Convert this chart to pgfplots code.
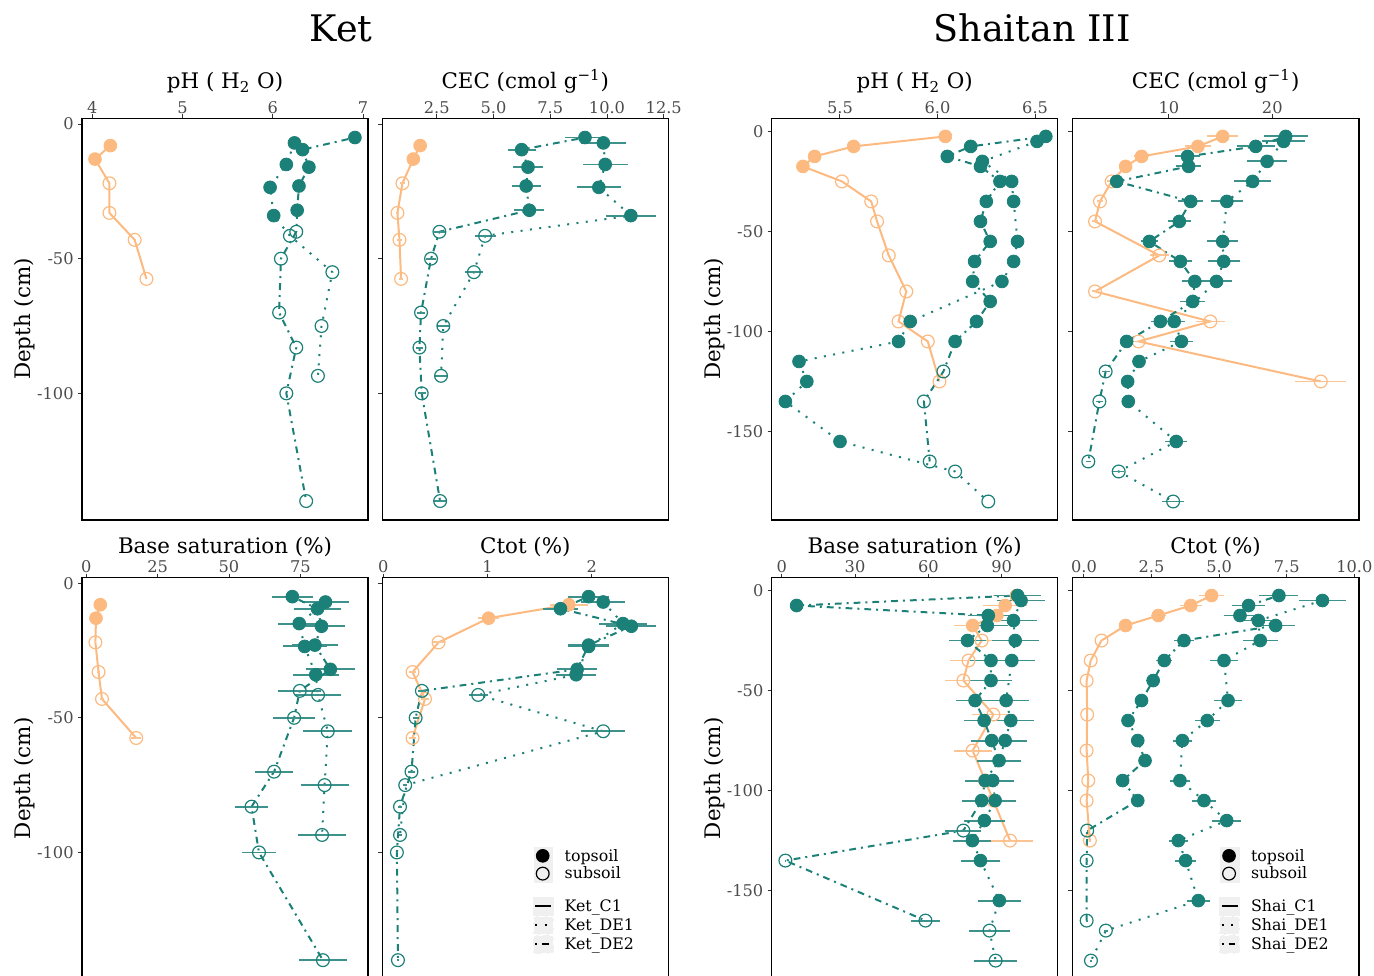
\documentclass[border=0pt]{standalone}
\usepackage{fontspec}
\setmainfont{DejaVu Serif}
\usepackage{pgfplots}
\usepackage{pgfplotstable}
\pgfplotsset{compat=1.18}
\definecolor{orng}{HTML}{FCBA80}
\definecolor{tl}{HTML}{1B8077}
\tikzset{dotl/.style={dash pattern=on 1pt off 3.7pt},
         ddl/.style={dash pattern=on 1pt off 2.5pt on 3.4pt off 2.5pt}}

% columns: depth, pH, CEC, err, base saturation, err, Ctot, err
\pgfplotstableread{
d ph cec ecec bs ebs c ec
-8 4.20 1.77 0.18 4.9 0.5 1.78 0.18
-13 4.03 1.47 0.15 3.4 0.3 1.01 0.10
-22 4.19 0.99 0.10 3.2 0.3 0.53 0.05
-33 4.19 0.77 0.08 4.3 0.4 0.28 0.03
-43 4.47 0.86 0.09 5.5 0.6 0.40 0.04
-57.5 4.60 0.93 0.09 17.5 1.8 0.28 0.03
}\KetA
\pgfplotstableread{
d ph cec ecec bs ebs c ec
-7 6.24 9.84 0.98 83.8 8.4 2.11 0.21
-15 6.15 9.92 0.99 74.6 7.5 2.30 0.23
-23.5 5.97 9.64 0.96 76.5 7.7 1.97 0.20
-34 6.01 11.05 1.10 80.4 8.0 1.85 0.19
-41.5 6.19 4.63 0.46 81.2 8.1 0.91 0.09
-55 6.66 4.14 0.41 84.6 8.5 2.11 0.21
-75 6.54 2.79 0.28 83.5 8.4 0.21 0.02
-93.5 6.50 2.69 0.27 82.6 8.3 0.16 0.02
}\KetB
\pgfplotstableread{
d ph cec ecec bs ebs c ec
-5 6.91 9.03 0.90 72.2 7.2 1.97 0.20
-9.5 6.33 6.24 0.62 81.0 8.1 1.70 0.17
-16 6.40 6.52 0.65 82.4 8.2 2.38 0.24
-23 6.29 6.44 0.64 80.1 8.0 1.97 0.20
-32 6.27 6.58 0.66 85.5 8.6 1.86 0.19
-40 6.26 2.62 0.26 74.8 7.5 0.37 0.04
-50 6.09 2.25 0.23 72.8 7.3 0.31 0.03
-70 6.07 1.81 0.18 65.8 6.6 0.27 0.03
-83 6.26 1.74 0.17 57.9 5.8 0.16 0.02
-100 6.15 1.84 0.18 60.5 6.1 0.13 0.01
-140 6.37 2.65 0.27 82.9 8.3 0.14 0.01
}\KetC
\pgfplotstableread{
d ph cec ecec bs ebs c ec
-2.5 6.04 15.2 1.52 96.0 9.6 4.72 0.47
-7.5 5.57 12.8 1.28 91.4 9.1 3.95 0.40
-12.5 5.37 7.35 0.74 88.0 8.8 2.75 0.28
-17.5 5.31 5.80 0.58 78.1 7.8 1.54 0.15
-25 5.51 4.45 0.45 81.8 8.2 0.65 0.07
-35 5.66 3.32 0.33 76.4 7.6 0.25 0.03
-45 5.69 2.84 0.28 74.3 7.4 0.10 0.01
-62 5.75 9.06 0.91 86.6 8.7 0.12 0.01
-80 5.84 2.84 0.28 78.1 7.8 0.10 0.01
-95 5.80 14.0 1.40 83.2 8.3 0.16 0.02
-105 5.95 7.06 0.71 86.6 8.7 0.10 0.01
-125 6.01 24.7 2.47 93.4 9.3 0.22 0.02
}\ShaiA
\pgfplotstableread{
d ph cec ecec bs ebs c ec
-5 6.51 21.1 2.11 97.9 9.8 8.82 0.88
-15 6.23 19.5 1.95 94.8 9.5 6.45 0.65
-25 6.38 18.1 1.81 95.5 9.6 6.52 0.65
-35 6.39 15.6 1.56 94.1 9.4 5.18 0.52
-55 6.41 15.2 1.52 91.8 9.2 5.33 0.53
-65 6.39 15.3 1.53 93.7 9.4 4.56 0.46
-75 6.33 14.6 1.46 91.4 9.1 3.64 0.36
-95 5.86 10.5 1.05 86.3 8.6 3.55 0.36
-105 5.80 11.2 1.12 87.3 8.7 4.44 0.44
-115 5.29 7.10 0.71 82.9 8.3 5.28 0.53
-125 5.33 6.00 0.60 78.0 7.8 3.49 0.35
-135 5.22 6.06 0.61 81.3 8.1 3.76 0.38
-155 5.50 10.7 1.07 89.0 8.9 4.23 0.42
-170 6.09 5.13 0.51 85.0 8.5 0.81 0.08
-185 6.26 10.4 1.04 87.5 8.8 0.26 0.03
}\ShaiB
\pgfplotstableread{
d ph cec ecec bs ebs c ec
-2.5 6.555 21.3 2.13 96.5 9.7 7.21 0.72
-7.5 6.17 18.4 1.84 6.1 0.6 6.09 0.61
-12.5 6.05 11.8 1.18 84.5 8.5 5.77 0.58
-17.5 6.22 11.9 1.19 84.1 8.4 7.09 0.71
-25 6.32 4.94 0.49 76.0 7.6 3.70 0.37
-35 6.25 12.1 1.21 85.6 8.6 2.97 0.30
-45 6.22 11.0 1.10 85.6 8.6 2.56 0.26
-55 6.27 8.10 0.81 79.1 7.9 2.13 0.21
-65 6.19 11.1 1.11 82.8 8.3 1.63 0.16
-75 6.18 12.5 1.25 85.9 8.6 1.99 0.20
-85 6.27 12.3 1.23 88.9 8.9 2.26 0.23
-95 6.20 9.16 0.92 83.2 8.3 1.43 0.14
-105 6.09 5.90 0.59 81.8 8.2 1.99 0.20
-120 6.03 3.87 0.39 74.3 7.4 0.12 0.01
-135 5.93 3.26 0.33 1.5 0.2 0.10 0.01
-165 5.96 2.19 0.22 58.8 5.9 0.10 0.01
}\ShaiC

% profile without error bars: table, column, colour, line style, topsoil domain, subsoil domain
\newcommand\profN[6]{%
 \addplot[forget plot, #3, #4, line width=1pt, no marks] table[x=#2,y=d]{#1};
 \addplot[forget plot, #3, only marks, mark=*, mark size=3.2pt, restrict y to domain=#5] table[x=#2,y=d]{#1};
 \addplot[forget plot, #3, only marks, mark=o, mark size=3.2pt, mark options={line width=0.6pt}, restrict y to domain=#6] table[x=#2,y=d]{#1};
}
% profile with horizontal error bars
\newcommand\profE[7]{%
 \addplot[forget plot, #4, #5, line width=1pt, no marks] table[x=#2,y=d]{#1};
 \addplot[forget plot, #4, only marks, mark=*, mark size=3.2pt, restrict y to domain=#6,
   error bars/.cd, x dir=both, x explicit, error mark=none, error bar style={color=#4!85!white, line width=0.95pt, solid}]
   table[x=#2,y=d,x error=#3]{#1};
 \addplot[forget plot, #4, only marks, mark=o, mark size=3.2pt, mark options={line width=0.6pt}, restrict y to domain=#7,
   error bars/.cd, x dir=both, x explicit, error mark=none, error bar style={color=#4!85!white, line width=0.95pt, solid}]
   table[x=#2,y=d,x error=#3]{#1};
}

\pgfplotsset{
  panel/.style={
    scale only axis, width=143pt, height=200.75pt,
    axis line style={black, line width=0.6pt},
    tick align=outside, major tick length=2pt,
    tick style={black!80, line width=0.5pt},
    xtick pos=right, ytick pos=left, xticklabel pos=right,
    ticklabel style={font=\fontsize{8.1}{9.5}\selectfont, text=black!70},
    xticklabel style={anchor=base, inner sep=0pt, yshift=0.4pt},
    yticklabel style={anchor=east, inner sep=0pt, xshift=-2pt},
    xlabel style={at={(axis description cs:0.5,1)}, anchor=base, inner sep=0pt, font=\fontsize{10.7}{12}\selectfont},
    ylabel style={at={([xshift=-25.65pt]axis description cs:0,0.5)}, anchor=base, inner sep=0pt, font=\fontsize{10.7}{12}\selectfont},
  },
  ketY/.style={ymin=-147, ymax=2.1, ytick={0,-50,-100}},
  shaiY/.style={ymin=-194.2, ymax=6.5, ytick={0,-50,-100,-150}},
  lgmk/.style={legend image code/.code={\fill[black!6] (0pt,-1.6pt) rectangle (9.35pt,6.9pt); \draw[##1] plot coordinates {(4.35pt,2.65pt)};}},
  lgln/.style={legend image code/.code={\fill[black!6] (0pt,-1.6pt) rectangle (9.35pt,6.9pt); \draw[##1] (0.65pt,2.8pt) -- (8.7pt,2.8pt);}},
  lgd/.style={legend style={draw=none, fill=none, inner sep=0pt, outer sep=0pt, anchor=north west,
      font=\fontsize{7.9}{9}\selectfont, row sep=0pt, column sep=5.5pt,
      cells={anchor=base west}, nodes={inner sep=0pt, text height=6.9pt, text depth=1.6pt}}},
}

\begin{document}
\begin{tikzpicture}
\path[use as bounding box] (0,0) rectangle (687pt,-487.5pt);
\clip (0,0) rectangle (687pt,-487.5pt);
\node[anchor=base, inner sep=0pt, font=\fontsize{18.3}{20}\selectfont] at (170.5pt,-20.85pt) {Ket};
\node[anchor=base, inner sep=0pt, font=\fontsize{18.3}{20}\selectfont] at (516pt,-20.85pt) {Shaitan III};

% ---------- Ket pH
\begin{axis}[panel, ketY, at={(41pt,-59.2pt)}, anchor=north west,
  xmin=3.886, xmax=7.055, xtick={4,5,6,7}, xticklabels={4,5,6,7},
  yticklabels={0,-50,-100}, xlabel={pH ( H\textsubscript{2} O)}, ylabel={Depth (cm)},
  xlabel style={yshift=14.75pt}]
\profN{\KetA}{ph}{orng}{solid}{-15:10}{-300:-16}
\profN{\KetB}{ph}{tl}{dotl}{-37:10}{-300:-38}
\profN{\KetC}{ph}{tl}{ddl}{-36:10}{-300:-37}
\end{axis}

% ---------- Ket CEC
\begin{axis}[panel, ketY, at={(191.15pt,-59.2pt)}, anchor=north west,
  xmin=0.104, xmax=12.70, xtick={2.5,5,7.5,10,12.5}, xticklabels={2.5,5.0,7.5,10.0,12.5},
  yticklabels={}, xlabel={CEC (cmol g\textsuperscript{−1})}, xlabel style={yshift=14.75pt}]
\profE{\KetA}{cec}{ecec}{orng}{solid}{-15:10}{-300:-16}
\profE{\KetB}{cec}{ecec}{tl}{dotl}{-37:10}{-300:-38}
\profE{\KetC}{cec}{ecec}{tl}{ddl}{-36:10}{-300:-37}
\end{axis}

% ---------- Shaitan pH
\begin{axis}[panel, shaiY, at={(385.85pt,-59.2pt)}, anchor=north west,
  xmin=5.150, xmax=6.616, xtick={5.5,6,6.5}, xticklabels={5.5,6.0,6.5},
  yticklabels={0,-50,-100,-150}, xlabel={pH ( H\textsubscript{2} O)}, ylabel={Depth (cm)},
  xlabel style={yshift=14.75pt}]
\profN{\ShaiA}{ph}{orng}{solid}{-20:10}{-300:-21}
\profN{\ShaiB}{ph}{tl}{dotl}{-160:10}{-300:-161}
\profN{\ShaiC}{ph}{tl}{ddl}{-110:10}{-300:-111}
\end{axis}

% ---------- Shaitan CEC
\begin{axis}[panel, shaiY, at={(536.15pt,-59.2pt)}, anchor=north west, width=143.3pt,
  xmin=0.64, xmax=28.39, xtick={10,20}, xticklabels={10,20},
  yticklabels={}, xlabel={CEC (cmol g\textsuperscript{−1})}, xlabel style={yshift=14.75pt}]
\profE{\ShaiA}{cec}{ecec}{orng}{solid}{-20:10}{-300:-21}
\profE{\ShaiB}{cec}{ecec}{tl}{dotl}{-160:10}{-300:-161}
\profE{\ShaiC}{cec}{ecec}{tl}{ddl}{-110:10}{-300:-111}
\end{axis}

% ---------- Ket base saturation
\begin{axis}[panel, ketY, at={(41pt,-288.75pt)}, anchor=north west,
  xmin=-1.5, xmax=98.7, xtick={0,25,50,75}, xticklabels={0,25,50,75},
  yticklabels={0,-50,-100}, xlabel={Base saturation (\%)}, ylabel={Depth (cm)},
  xlabel style={yshift=12.15pt}]
\profE{\KetA}{bs}{ebs}{orng}{solid}{-15:10}{-300:-16}
\profE{\KetB}{bs}{ebs}{tl}{dotl}{-37:10}{-300:-38}
\profE{\KetC}{bs}{ebs}{tl}{ddl}{-36:10}{-300:-37}
\end{axis}

% ---------- Ket Ctot
\begin{axis}[panel, ketY, lgd, at={(191.15pt,-288.75pt)}, anchor=north west,
  xmin=-0.01, xmax=2.735, xtick={0,1,2}, xticklabels={0,1,2},
  yticklabels={}, xlabel={Ctot (\%)}, xlabel style={yshift=12.15pt},
  legend style={at={(rel axis cs:0.527,0.329)}}]
\profE{\KetA}{c}{ec}{orng}{solid}{-15:10}{-300:-16}
\profE{\KetB}{c}{ec}{tl}{dotl}{-37:10}{-300:-38}
\profE{\KetC}{c}{ec}{tl}{ddl}{-36:10}{-300:-37}
\addlegendimage{only marks, mark=*, black, mark size=3.2pt, lgmk}
\addlegendentry{topsoil}
\addlegendimage{only marks, mark=o, black, mark size=3.2pt, mark options={line width=0.6pt}, lgmk}
\addlegendentry{subsoil}
\addlegendimage{empty legend}
\addlegendentry[text height=5.6pt]{}
\addlegendimage{black, line width=1pt, lgln}
\addlegendentry{Ket\_C1}
\addlegendimage{black, line width=1pt, dotl, lgln}
\addlegendentry{Ket\_DE1}
\addlegendimage{black, line width=1pt, ddl, lgln}
\addlegendentry{Ket\_DE2}
\end{axis}

% ---------- Shaitan base saturation
\begin{axis}[panel, shaiY, at={(385.85pt,-288.75pt)}, anchor=north west,
  xmin=-4.09, xmax=112.9, xtick={0,30,60,90}, xticklabels={0,30,60,90},
  yticklabels={0,-50,-100,-150}, xlabel={Base saturation (\%)}, ylabel={Depth (cm)},
  xlabel style={yshift=12.15pt}]
\profE{\ShaiA}{bs}{ebs}{orng}{solid}{-20:10}{-300:-21}
\profE{\ShaiB}{bs}{ebs}{tl}{dotl}{-160:10}{-300:-161}
\profE{\ShaiC}{bs}{ebs}{tl}{ddl}{-110:10}{-300:-111}
\end{axis}

% ---------- Shaitan Ctot
\begin{axis}[panel, shaiY, lgd, at={(536.15pt,-288.75pt)}, anchor=north west, width=143.3pt,
  xmin=-0.43, xmax=10.17, xtick={0,2.5,5,7.5,10}, xticklabels={0.0,2.5,5.0,7.5,10.0},
  yticklabels={}, xlabel={Ctot (\%)}, xlabel style={yshift=12.15pt},
  legend style={at={(rel axis cs:0.513,0.329)}}]
\profE{\ShaiA}{c}{ec}{orng}{solid}{-20:10}{-300:-21}
\profE{\ShaiB}{c}{ec}{tl}{dotl}{-160:10}{-300:-161}
\profE{\ShaiC}{c}{ec}{tl}{ddl}{-110:10}{-300:-111}
\addlegendimage{only marks, mark=*, black, mark size=3.2pt, lgmk}
\addlegendentry{topsoil}
\addlegendimage{only marks, mark=o, black, mark size=3.2pt, mark options={line width=0.6pt}, lgmk}
\addlegendentry{subsoil}
\addlegendimage{empty legend}
\addlegendentry[text height=5.6pt]{}
\addlegendimage{black, line width=1pt, lgln}
\addlegendentry{Shai\_C1}
\addlegendimage{black, line width=1pt, dotl, lgln}
\addlegendentry{Shai\_DE1}
\addlegendimage{black, line width=1pt, ddl, lgln}
\addlegendentry{Shai\_DE2}
\end{axis}
\end{tikzpicture}
\end{document}
